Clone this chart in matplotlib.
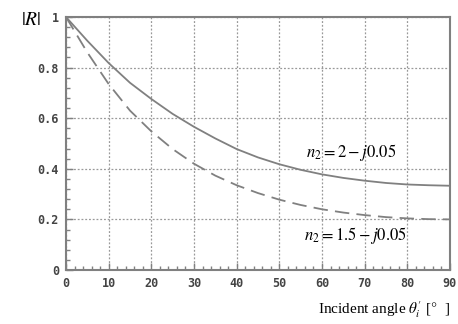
import matplotlib
matplotlib.use("Agg")
import matplotlib.pyplot as plt
from matplotlib.ticker import MultipleLocator

plt.rcParams['mathtext.fontset'] = 'stix'

# incident angle (deg) and |R|
angle = [0, 5, 10, 15, 20, 25, 30, 35, 40, 45, 50, 55, 60, 65, 70, 75, 80, 85, 90]
r_n2 = [1.0, 0.906, 0.818, 0.74, 0.676, 0.617, 0.566, 0.52, 0.478, 0.445,
        0.418, 0.396, 0.378, 0.364, 0.353, 0.344, 0.338, 0.335, 0.333]
r_n15 = [1.0, 0.86, 0.735, 0.63, 0.548, 0.478, 0.42, 0.373, 0.335, 0.304,
         0.278, 0.257, 0.24, 0.227, 0.217, 0.209, 0.204, 0.201, 0.2]

x_ticks = [0, 10, 20, 30, 40, 50, 60, 70, 80, 90]
y_ticks = [0, 0.2, 0.4, 0.6, 0.8, 1.0]
y_labels = ['0', '0.2', '0.4', '0.6', '0.8', '1']

fig = plt.figure(figsize=(4.58, 3.24), dpi=100)
ax = fig.add_axes([0.1441, 0.1667, 0.8384, 0.7808])

grey = '#808080'
ax.plot(angle, r_n2, color=grey, lw=1.3)
ax.plot(angle, r_n15, color=grey, lw=1.3, dashes=(8, 4))

ax.set_xlim(0, 90)
ax.set_ylim(0, 1)
ax.set_xticks(x_ticks)
ax.set_yticks(y_ticks)
ax.set_yticklabels(y_labels)
ax.xaxis.set_minor_locator(MultipleLocator(2))
ax.yaxis.set_minor_locator(MultipleLocator(0.04))
ax.grid(True, which='major', color='#999999', ls=(0, (1.5, 1.5)), lw=0.9)

for lab in ax.get_xticklabels() + ax.get_yticklabels():
    lab.set_fontfamily('DejaVu Sans Mono')
    lab.set_fontweight('bold')
    lab.set_fontsize(8.5)
    lab.set_color('#444444')
ax.tick_params(which='major', direction='in', length=5, width=1, color=grey, pad=5)
ax.tick_params(which='minor', direction='in', length=3, width=1, color=grey)
for sp in ax.spines.values():
    sp.set_color(grey)
    sp.set_linewidth(1.5)

ax.text(56.3, 0.466, r'$n_2 = 2 - j0.05$', fontsize=12, va='center', ha='left')
ax.text(55.8, 0.138, r'$n_2 = 1.5 - j0.05$', fontsize=12, va='center', ha='left')

fig.text(0.045, 0.94, r'$|R|$', fontsize=14, ha='left', va='center')
fig.text(0.982, 0.045, r"Incident angle $\theta_i'$ [$\degree$  ]",
         fontsize=11, family='Liberation Serif', ha='right', va='center')

fig.savefig('out.png', dpi=100)
